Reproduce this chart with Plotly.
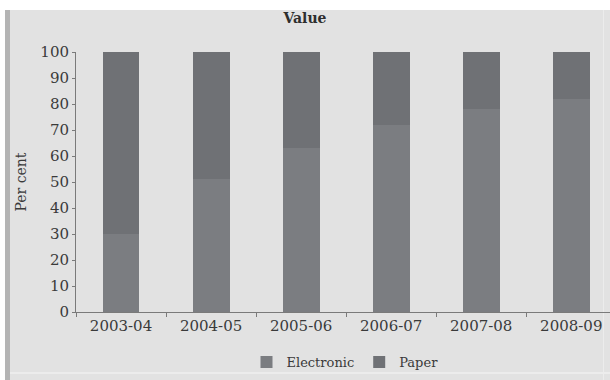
import plotly.graph_objects as go

# Share of transactions by mode, per financial year
years = ["2003-04", "2004-05", "2005-06", "2006-07", "2007-08", "2008-09"]
electronic = [30, 51, 63, 72, 78, 82]
paper = [70, 49, 37, 28, 22, 18]

W, H = 610, 380
ML, MR, MT, MB = 76, 0, 52, 68
PW, PH = W - ML - MR, H - MT - MB

def px_x(p):
    return (p - ML) / PW

def px_y(p):
    return (H - MB - p) / PH

text_color = "#3a3a3a"
font_family = "DejaVu Serif"

fig = go.Figure()
fig.add_trace(go.Bar(name="Electronic", x=years, y=electronic,
                     marker=dict(color="#7b7d81", line=dict(width=0))))
fig.add_trace(go.Bar(name="Paper", x=years, y=paper,
                     marker=dict(color="#6f7175", line=dict(width=0))))

shapes = [
    # white strip above the panel
    dict(type="rect", xref="paper", yref="paper", x0=px_x(0), x1=px_x(W),
         y0=px_y(10), y1=px_y(0), fillcolor="white", line=dict(width=0), layer="below"),
    # white strip at the far left
    dict(type="rect", xref="paper", yref="paper", x0=px_x(0), x1=px_x(5),
         y0=px_y(H), y1=px_y(0), fillcolor="white", line=dict(width=0), layer="below"),
    # darker left border of the panel
    dict(type="rect", xref="paper", yref="paper", x0=px_x(5), x1=px_x(10),
         y0=px_y(H), y1=px_y(10), fillcolor="#b4b4b4", line=dict(width=0), layer="below"),
    # light line near the right edge
    dict(type="line", xref="paper", yref="paper", x0=px_x(603.5), x1=px_x(603.5),
         y0=px_y(H), y1=px_y(10), line=dict(color="#ececec", width=1), layer="below"),
    # light line near the bottom edge
    dict(type="line", xref="paper", yref="paper", x0=px_x(10), x1=px_x(W),
         y0=px_y(373), y1=px_y(373), line=dict(color="#ececec", width=2), layer="below"),
]

fig.update_layout(
    width=W, height=H,
    margin=dict(l=ML, r=MR, t=MT, b=MB),
    barmode="stack",
    bargap=0.59,
    paper_bgcolor="#e2e2e2",
    plot_bgcolor="#e2e2e2",
    font=dict(family=font_family, color=text_color, size=13),
    title=dict(text="<b>Value</b>", x=305 / W, xanchor="center",
               y=1 - 18 / H, yanchor="middle", font=dict(size=14, color="#2e2e2e")),
    showlegend=True,
    legend=dict(orientation="h", x=px_x(345), xanchor="center", y=px_y(362),
                yanchor="middle", font=dict(size=13), bgcolor="rgba(0,0,0,0)",
                traceorder="normal", itemwidth=30),
    shapes=shapes,
    xaxis=dict(
        type="category",
        range=[-0.5, 5.43], showgrid=False, showline=True, linecolor="#7a7a7a",
        linewidth=1, ticks="outside", tickson="boundaries", ticklen=4,
        tickcolor="#7a7a7a", tickfont=dict(size=15), fixedrange=True,
    ),
    yaxis=dict(
        range=[0, 100], tickvals=list(range(0, 101, 10)), showgrid=False,
        zeroline=False, showline=True, linecolor="#7a7a7a", linewidth=1,
        ticks="outside", ticklen=3, tickcolor="#7a7a7a", tickfont=dict(size=15),
        title=dict(text="Per cent", font=dict(size=14), standoff=10),
    ),
)

fig.write_html("out.html")
